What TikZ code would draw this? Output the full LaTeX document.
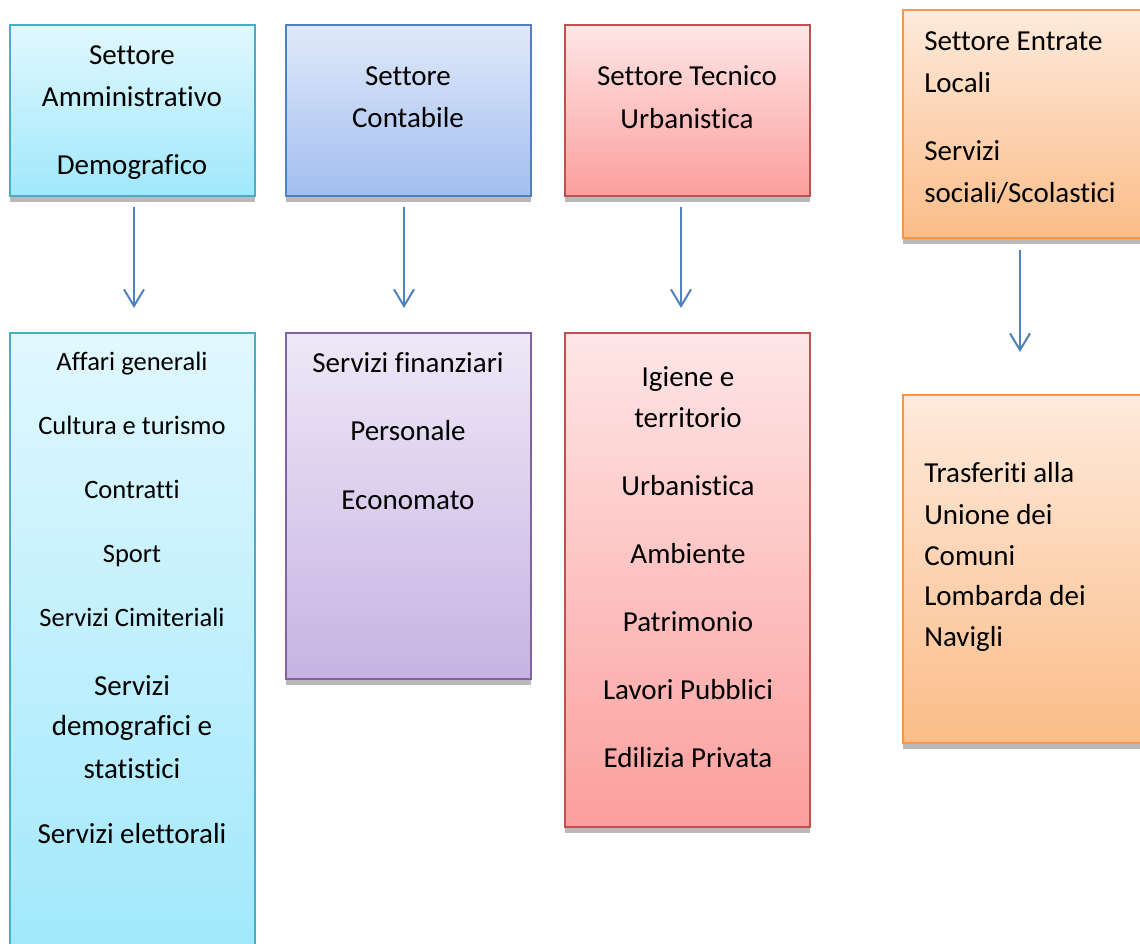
\documentclass[tikz,border=0pt]{standalone}
\usepackage{fontspec}
\setmainfont{Carlito}[Ligatures={NoCommon}]
\usetikzlibrary{arrows.meta,fit}
\definecolor{cyanT}{HTML}{E1F8FE}
\definecolor{cyanB}{HTML}{A0E8FC}
\definecolor{cyanD}{HTML}{4BACC6}
\definecolor{blueT}{HTML}{E0E9F9}
\definecolor{blueB}{HTML}{A3BEF0}
\definecolor{blueD}{HTML}{4F81BD}
\definecolor{redT}{HTML}{FEE6E6}
\definecolor{redB}{HTML}{FB9F9D}
\definecolor{redD}{HTML}{C0504D}
\definecolor{orT}{HTML}{FEEADC}
\definecolor{orB}{HTML}{FBBD88}
\definecolor{orD}{HTML}{F79646}
\definecolor{puT}{HTML}{EEE8F7}
\definecolor{puB}{HTML}{C7B3E3}
\definecolor{puD}{HTML}{8064A2}
\definecolor{arrC}{HTML}{4F81BD}
\tikzset{
  box/.style={rectangle, inner sep=0pt, line width=1.5pt, shading=axis, shading angle=0},
  cyanbox/.style={box, draw=cyanD, top color=cyanT, bottom color=cyanB},
  bluebox/.style={box, draw=blueD, top color=blueT, bottom color=blueB},
  redbox/.style={box, draw=redD, top color=redT, bottom color=redB},
  orbox/.style={box, draw=orD, top color=orT, bottom color=orB},
  pubox/.style={box, draw=puD, top color=puT, bottom color=puB},
  shad/.style={fill=gray!55},
  big/.style={anchor=base, inner sep=0pt, font=\fontsize{21.75pt}{26pt}\selectfont},
  small/.style={anchor=base, inner sep=0pt, font=\fontsize{19.9pt}{24pt}\selectfont},
  bigL/.style={big, anchor=base west},
  arr/.style={draw=arrC, line width=1.5pt, -{Straight Barb[length=12.5pt, width=15pt, line width=1.5pt]}}
}
\begin{document}
\begin{tikzpicture}[x=0.75pt, y=-0.75pt]
\clip (0,0) rectangle (1140,944);
\fill[white] (0,0) rectangle (1140,944);
% top row
\node[cyanbox, fit={(9.5,25) (254.5,196)}] (s1) {};
\node[bluebox, fit={(286,25) (531,196)}] (s2) {};
\node[redbox, fit={(565,25) (810,196)}] (s3) {};
\node[orbox, fit={(903,10.5) (1150,238)}] (s4) {};
% bottom row
\node[cyanbox, fit={(9.5,333) (254.5,960)}] (d1) {};
\node[pubox, fit={(286,333) (531,679)}] (d2) {};
\node[redbox, fit={(565,333) (810,827)}] (d3) {};
\node[orbox, fit={(903,395) (1150,743)}] (d4) {};
% shadows
\foreach \n in {s1,s2,s3,s4,d2,d3,d4}{
  \fill[shad] ([yshift=0.2pt,xshift=0.75pt]\n.south west) rectangle ([yshift=-3.5pt,xshift=-0.75pt]\n.south east);
}
\begin{scope}[shift={(0,3)}]
% texts top
\node[big] (t11) at (132,62) {Settore};
\node[big] (t12) at (132,104) {Amministrativo};
\node[big] (t13) at (132,172) {Demografico};
\node[big] (t21) at (408,83) {Settore};
\node[big] (t22) at (408,125) {Contabile};
\node[big] (t31) at (687,83) {Settore Tecnico};
\node[big] (t32) at (687,126) {Urbanistica};
\node[bigL] (t41) at (924,48) {Settore Entrate};
\node[bigL] (t42) at (924,90) {Locali};
\node[bigL] (t43) at (924,158) {Servizi};
\node[bigL] (t44) at (924,200) {sociali/Scolastici};
% texts bottom
\node[small] (u11) at (132,368) {Affari generali};
\node[small] (u12) at (132,432) {Cultura e turismo};
\node[small] (u13) at (132,496) {Contratti};
\node[small] (u14) at (132,560) {Sport};
\node[small] (u15) at (132,624) {Servizi Cimiteriali};
\node[big] (u16) at (132,693) {Servizi};
\node[big] (u17) at (132,733) {demografici e};
\node[big] (u18) at (132,775) {statistici};
\node[big] (u19) at (132,841) {Servizi elettorali};
\node[big] (u21) at (408,370) {Servizi finanziari};
\node[big] (u22) at (408,438) {Personale};
\node[big] (u23) at (408,507) {Economato};
\node[big] (u31) at (688,384) {Igiene e};
\node[big] (u32) at (688,425) {territorio};
\node[big] (u33) at (688,493) {Urbanistica};
\node[big] (u34) at (688,561) {Ambiente};
\node[big] (u35) at (688,629) {Patrimonio};
\node[big] (u36) at (688,697) {Lavori Pubblici};
\node[big] (u37) at (688,765) {Edilizia Privata};
\node[bigL] (u41) at (924,480) {Trasferiti alla};
\node[bigL] (u42) at (924,522) {Unione dei};
\node[bigL] (u43) at (924,563) {Comuni};
\node[bigL] (u44) at (924,603) {Lombarda dei};
\node[bigL] (u45) at (924,644) {Navigli};
\end{scope}
% arrows
\coordinate (a1s) at (134,207); \coordinate (a1e) at (134,308);
\coordinate (a2s) at (404,207); \coordinate (a2e) at (404,308);
\coordinate (a3s) at (681,207); \coordinate (a3e) at (681,308);
\coordinate (a4s) at (1020,250); \coordinate (a4e) at (1020,352);
\draw[arr] (a1s) -- (a1e);
\draw[arr] (a2s) -- (a2e);
\draw[arr] (a3s) -- (a3e);
\draw[arr] (a4s) -- (a4e);
\end{tikzpicture}
\end{document}
